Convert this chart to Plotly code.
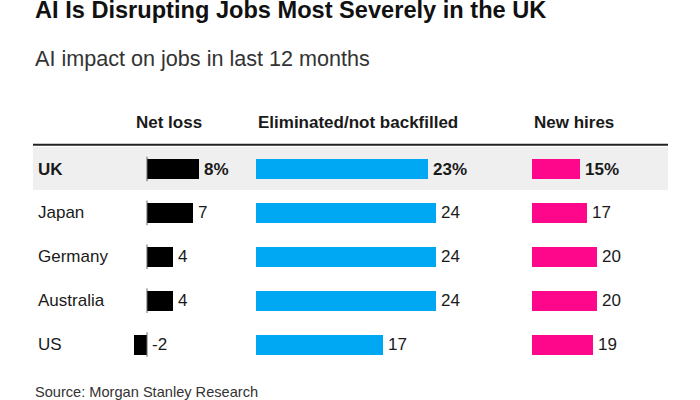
import plotly.graph_objects as go

# ---- data ----
countries = ["UK", "Japan", "Germany", "Australia", "US"]
net_loss = [8, 7, 4, 4, -2]
eliminated = [23, 24, 24, 24, 17]
new_hires = [15, 17, 20, 20, 19]
headers = ["Net loss", "Eliminated/not backfilled", "New hires"]
title = "AI Is Disrupting Jobs Most Severely in the UK"
subtitle = "AI impact on jobs in last 12 months"
source = "Source: Morgan Stanley Research"

# ---- layout constants (pixels) ----
W, H = 700, 400
FONT = "Liberation Sans, Arial, Helvetica, sans-serif"
TXT = "#1a1a1a"
colors = ["#000000", "#00a8f3", "#ff078b"]
# column zero position (px) and scale (px per unit)
cols = [(147.0, 6.5), (256.0, 7.49), (531.7, 3.24)]
row0, row_step = 169.0, 43.9
bar_px = 20.0

def xr(x0, s):
    return [-x0 / s, (W - x0) / s]

yrange = [(H - row0) / row_step, (0 - row0) / row_step]
ypos = list(range(len(countries)))
bar_w = bar_px / row_step

fig = go.Figure()
series = [net_loss, eliminated, new_hires]
axes = ["x", "x2", "x3"]
for vals, ax, col in zip(series, axes, colors):
    fig.add_trace(go.Bar(
        x=vals, y=ypos, orientation="h", xaxis=ax, yaxis="y",
        width=bar_w, marker=dict(color=col, line=dict(width=0)),
        hoverinfo="skip", showlegend=False,
    ))

ann = []
def py(p):  # pixel from top -> paper y
    return 1 - p / H
def px(p):
    return p / W

ann.append(dict(text=f"<b>{title}</b>", x=px(33), y=py(10), xref="paper", yref="paper",
                xanchor="left", yanchor="middle", showarrow=False,
                font=dict(family=FONT, size=23.6, color="#111111")))
ann.append(dict(text=subtitle, x=px(33), y=py(59), xref="paper", yref="paper",
                xanchor="left", yanchor="middle", showarrow=False,
                font=dict(family=FONT, size=21.6, color="#333333")))
ann.append(dict(text=source, x=px(33), y=py(392), xref="paper", yref="paper",
                xanchor="left", yanchor="middle", showarrow=False,
                font=dict(family=FONT, size=14.6, color="#333333")))

# column headers: left aligned at the column's leftmost extent
for h, vals, ax in zip(headers, series, axes):
    ann.append(dict(text=f"<b>{h}</b>", x=min(0, min(vals)), y=py(122.5),
                    xref=ax, yref="paper", xanchor="left", yanchor="middle",
                    showarrow=False, font=dict(family=FONT, size=17, color=TXT)))

# row labels
for i, c in enumerate(countries):
    t = f"<b>{c}</b>" if i == 0 else c
    ann.append(dict(text=t, x=px(36), y=ypos[i], xref="paper", yref="y",
                    xanchor="left", yanchor="middle", showarrow=False,
                    font=dict(family=FONT, size=17, color=TXT)))

# value labels
for vals, ax in zip(series, axes):
    for i, v in enumerate(vals):
        t = f"<b>{v}%</b>" if i == 0 else str(v)
        ann.append(dict(text=t, x=max(v, 0), y=ypos[i], xref=ax, yref="y",
                        xanchor="left", yanchor="middle", xshift=3, showarrow=False,
                        font=dict(family=FONT, size=17, color=TXT)))

shapes = []
# highlighted UK row band
shapes.append(dict(type="rect", xref="paper", yref="y", x0=px(33), x1=px(668),
                   y0=ypos[0] - 0.5, y1=ypos[0] + 0.48, fillcolor="#efefef",
                   line=dict(width=0), layer="below"))
# header rule
shapes.append(dict(type="line", xref="paper", yref="y", x0=px(33), x1=px(668),
                   y0=ypos[0] - 0.55, y1=ypos[0] - 0.55,
                   line=dict(color="#222222", width=2)))
# zero ticks for net loss
for i in ypos:
    shapes.append(dict(type="line", xref="x", yref="y", x0=0, x1=0,
                       y0=i - 0.28, y1=i + 0.28, line=dict(color="#666666", width=1)))

hidden = dict(visible=False, showgrid=False, zeroline=False, fixedrange=True)
fig.update_layout(
    width=W, height=H, margin=dict(l=0, r=0, t=0, b=0),
    paper_bgcolor="white", plot_bgcolor="white",
    barmode="overlay", bargap=0,
    xaxis=dict(range=xr(*cols[0]), domain=[0, 1], **hidden),
    xaxis2=dict(range=xr(*cols[1]), overlaying="x", anchor="y", **hidden),
    xaxis3=dict(range=xr(*cols[2]), overlaying="x", anchor="y", **hidden),
    yaxis=dict(range=yrange, domain=[0, 1], **hidden),
    annotations=ann, shapes=shapes,
)
fig.write_html("out.html", config={"displayModeBar": False},
               post_script="document.body.style.margin='0';document.body.style.overflow='hidden';")
